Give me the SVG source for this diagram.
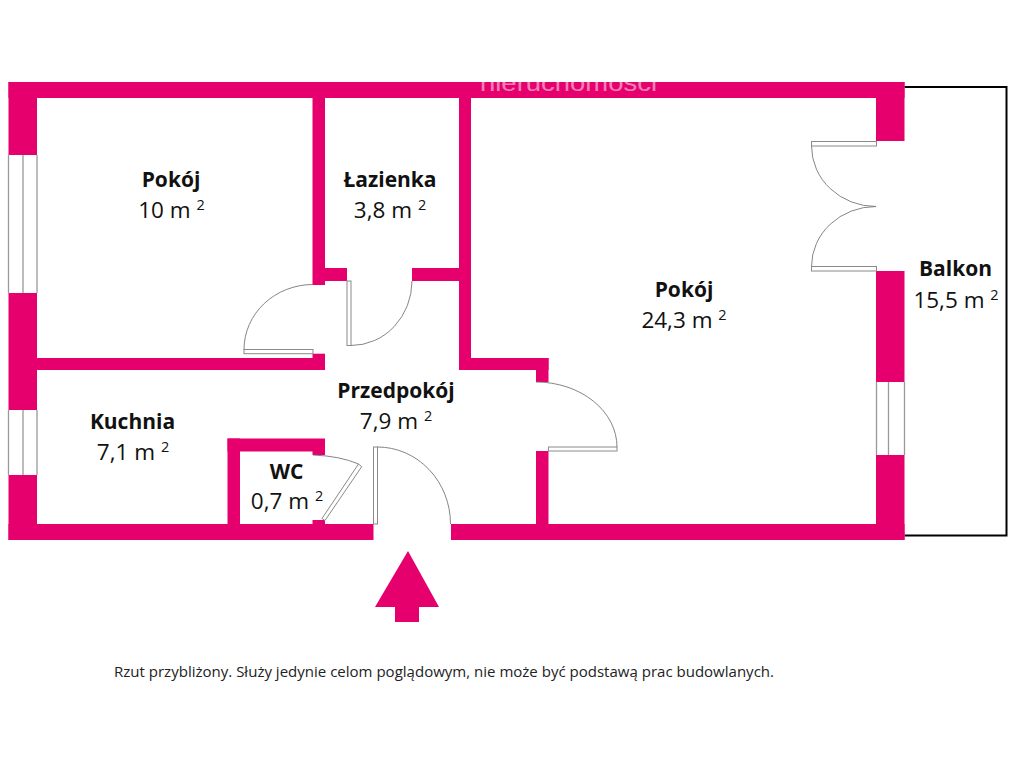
<svg xmlns="http://www.w3.org/2000/svg" width="1024" height="768" viewBox="0 0 1024 768">
<style>
.w{fill:#e5006d}
.o{fill:#fff;stroke:#8a8a8a;stroke-width:1}
.a{fill:none;stroke:#777;stroke-width:.9}
.l{fill:none;stroke:#999;stroke-width:1.3}
text{font-family:"Open Sans","Noto Sans","Liberation Sans",sans-serif;fill:#111;text-anchor:middle}
.n{font-weight:700;font-size:21px}
.v{font-size:22.500px}
.s{font-size:14.500px}
</style>
<rect width="1024" height="768" fill="#fff"/>
<g id="balcony"><path d="M904.500 87H1006.500V535.500H904.500" fill="none" stroke="#000" stroke-width="2"/></g>
<g id="walls">
<rect class="w" x="8.500" y="82" width="896" height="16"/>
<rect class="w" x="8.500" y="82" width="28.500" height="73"/>
<rect class="w" x="876" y="82" width="28.500" height="59"/>
<rect class="w" x="312.500" y="98" width="12.500" height="187"/>
<rect class="w" x="325" y="268" width="22" height="13"/>
<rect class="w" x="412" y="268" width="47" height="13"/>
<rect class="w" x="459" y="98" width="12" height="272"/>
<rect class="w" x="459" y="358" width="89.500" height="12"/>
<rect class="w" x="536" y="358" width="12.500" height="24"/>
<rect class="w" x="37" y="358" width="288" height="12"/>
<rect class="w" x="312.500" y="353.700" width="12.500" height="16.300"/>
<rect class="w" x="8.500" y="293" width="28.500" height="117"/>
<rect class="w" x="8.500" y="475" width="28.500" height="65"/>
<rect class="w" x="8.500" y="524" width="365" height="16"/>
<rect class="w" x="451" y="524" width="453.500" height="16"/>
<rect class="w" x="536" y="451" width="12.500" height="73"/>
<rect class="w" x="876" y="271" width="28.500" height="111"/>
<rect class="w" x="876" y="455" width="28.500" height="85"/>
<rect class="w" x="227.500" y="438.500" width="12.500" height="86"/>
<rect class="w" x="227.500" y="438.500" width="97.500" height="13"/>
<rect class="w" x="312.500" y="451" width="12.500" height="4"/>
<rect class="w" x="312.500" y="520" width="12.500" height="4"/>
</g>
<g id="windows">
<path class="l" d="M8.500 155V293M23 155V293M37 155V293M8.500 410V475M23 410V475M37 410V475M876.500 382V455M888.500 382V455M904.500 382V455"/>
</g>
<g id="doors">
<rect class="o" x="244" y="349.500" width="69" height="4.200"/>
<path class="a" d="M244 349.500A69 65 0 0 1 313 284.500"/>
<rect class="o" x="347" y="281" width="4" height="64.500"/>
<path class="a" d="M351 345.500A61 64.500 0 0 0 412 281"/>
<path class="o" d="M322 518.500L358.500 464L361.700 466.700L325 520.500Z"/>
<path class="a" d="M313 455Q340 456 358.500 464"/>
<rect class="o" x="373.500" y="447" width="4" height="77"/>
<path class="a" d="M377.500 447A73 77 0 0 1 450.500 524"/>
<rect class="o" x="548.500" y="447" width="68.500" height="4"/>
<path class="a" d="M536 382A81 65 0 0 1 617 447"/>
<rect class="o" x="811.500" y="141.500" width="65" height="4.500"/>
<path class="a" d="M811.500 146A64.500 60.500 0 0 0 876 206.500A64.500 60 0 0 0 811.500 266.500"/>
<rect class="o" x="811.500" y="266.500" width="65" height="4.500"/>
</g>
<g id="entry-arrow"><path class="w" d="M408 551L375 607H395V622H419V607H439Z"/></g>
<g id="labels">
<text class="n" x="171" y="187">Pokój</text>
<text class="v" x="171.500" y="218">10 m <tspan class="s" dy="-8">2</tspan></text>
<text class="n" x="390" y="187">Łazienka</text>
<text class="v" x="390" y="218">3,8 m <tspan class="s" dy="-8">2</tspan></text>
<text class="n" x="684" y="297">Pokój</text>
<text class="v" x="684" y="328">24,3 m <tspan class="s" dy="-8">2</tspan></text>
<text class="n" x="955.500" y="276">Balkon</text>
<text class="v" x="956" y="308">15,5 m <tspan class="s" dy="-8">2</tspan></text>
<text class="n" x="396" y="398">Przedpokój</text>
<text class="v" x="396" y="429">7,9 m <tspan class="s" dy="-8">2</tspan></text>
<text class="n" x="132.500" y="429">Kuchnia</text>
<text class="v" x="133" y="460">7,1 m <tspan class="s" dy="-8">2</tspan></text>
<text class="n" x="286.500" y="479">WC</text>
<text class="v" x="287" y="509">0,7 m <tspan class="s" dy="-8">2</tspan></text>
<text x="444" y="677" font-size="14" textLength="660" lengthAdjust="spacingAndGlyphs" style="fill:#222">Rzut przybliżony. Służy jedynie celom poglądowym, nie może być podstawą prac budowlanych.</text>
</g>
<g id="watermark"><text x="568.500" y="91" font-size="23" textLength="177" lengthAdjust="spacingAndGlyphs" style="fill:#fff;font-family:'Liberation Sans',sans-serif" opacity=".5">nieruchomosci</text></g>
</svg>
